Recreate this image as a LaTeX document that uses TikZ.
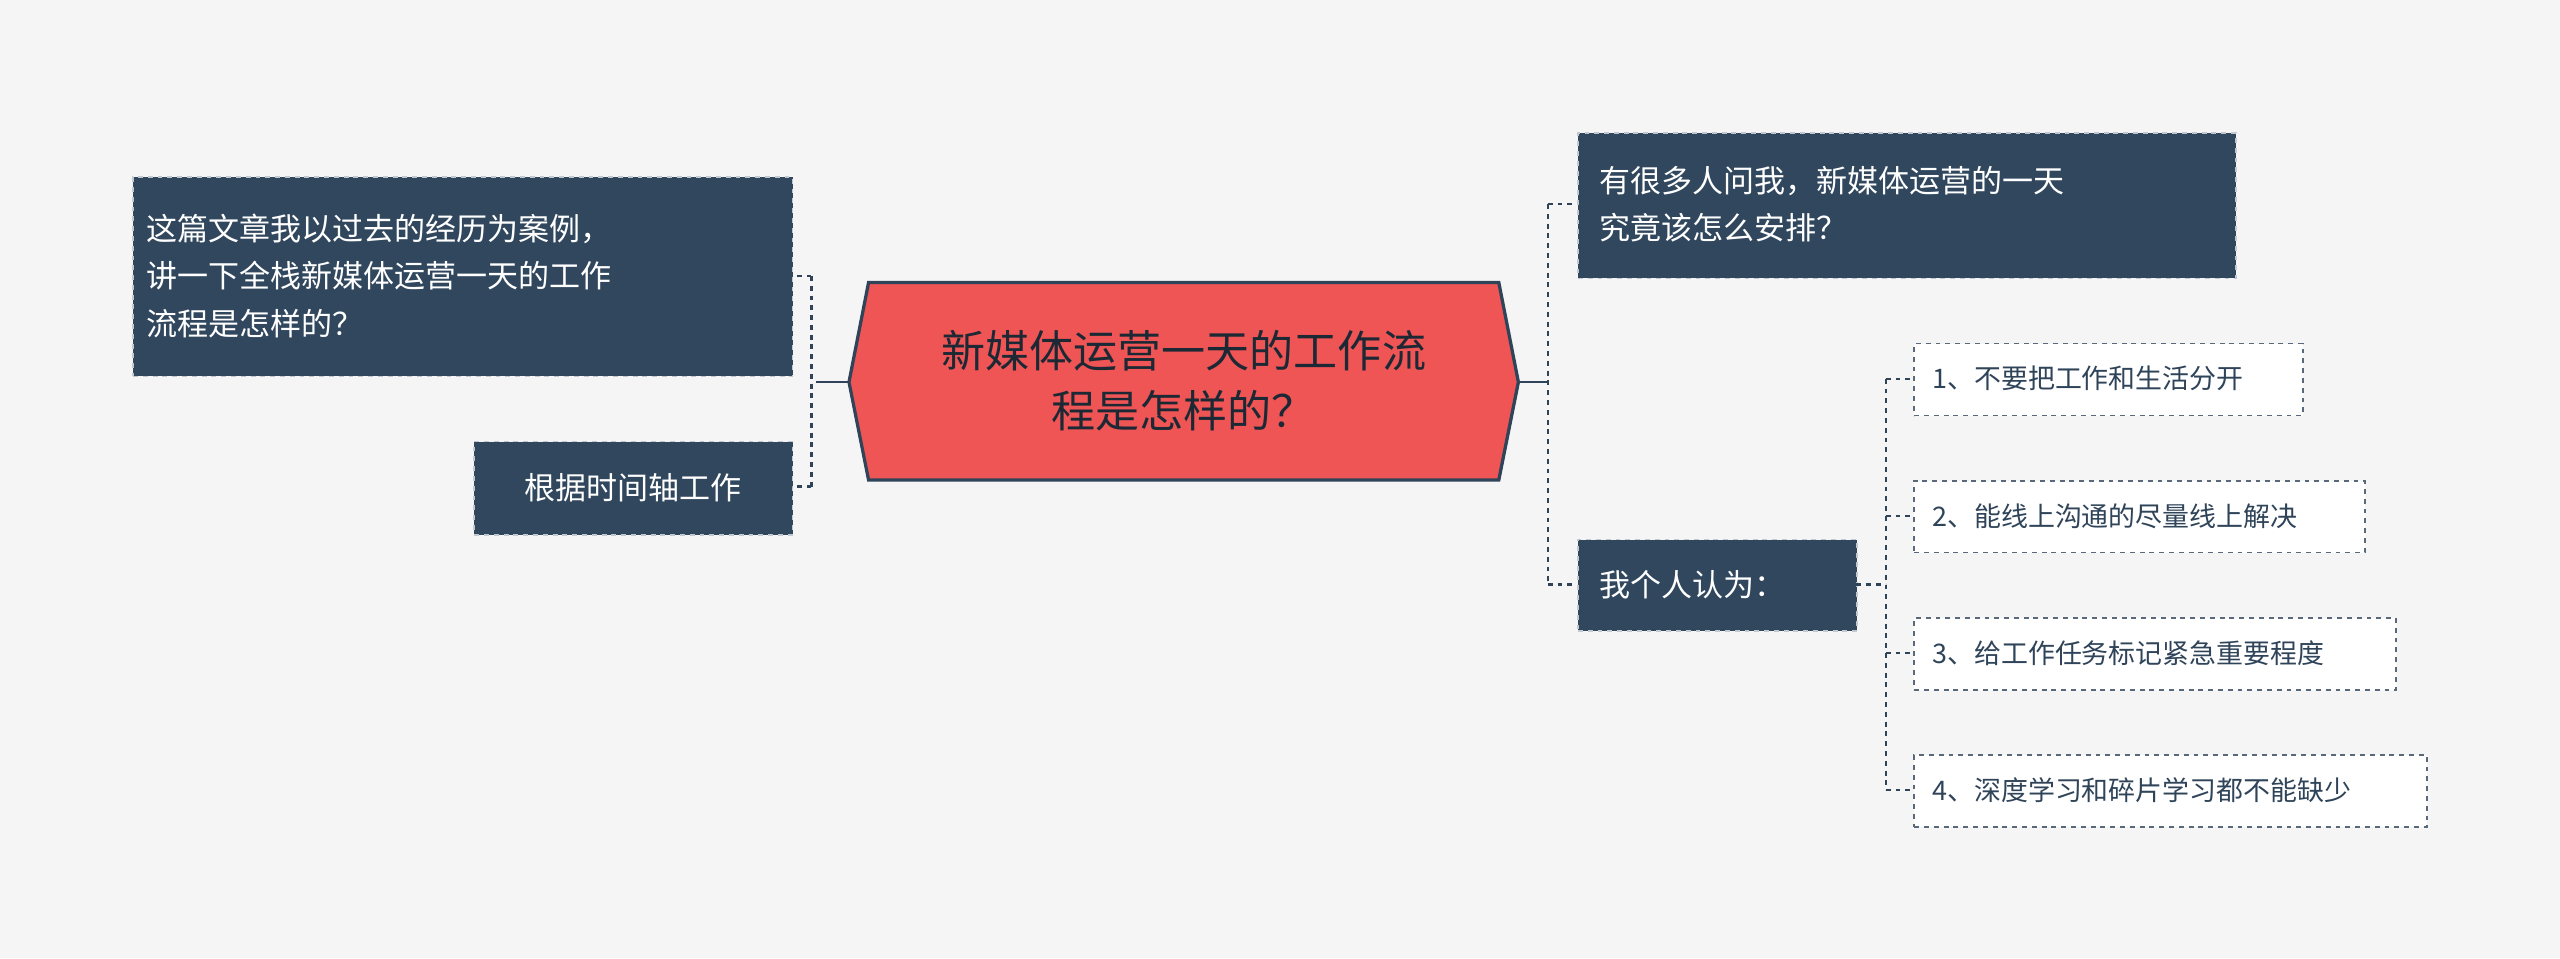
\documentclass[tikz,border=0pt]{standalone}
\usepackage{fontspec}
\setmainfont{Noto Sans CJK SC}
\usetikzlibrary{shapes.misc}
\definecolor{bg}{HTML}{F5F5F5}
\definecolor{dk}{HTML}{30475E}
\definecolor{rd}{HTML}{EF5555}
\definecolor{ln}{HTML}{2F4459}
\tikzset{
 dbox/.style={fill=dk,draw=white!70!dk,dashed,line width=1pt,text=white,font=\fontsize{19}{27}\selectfont,align=left,inner sep=0pt,anchor=north west},
 sbox/.style={fill=white,draw=ln!80,dashed,line width=1pt,text=ln,font=\fontsize{16.5}{20}\selectfont,inner sep=0pt,anchor=north west},
 conn/.style={draw=ln,dashed,line width=1.5pt},
 solidc/.style={draw=ln,line width=1.5pt}
}
\begin{document}
\begin{tikzpicture}[x=1pt,y=-1pt]
\useasboundingbox[fill=bg] (0,0) rectangle (1568,587);
% center hexagon
\draw[fill=rd,draw=ln,line width=2pt] (520,234)--(532,173)--(918,173)--(930,234)--(918,294)--(532,294)--cycle;
\node[font=\fontsize{27}{37}\selectfont,text=ln!60!black,align=center] (c) at (725,233) {新媒体运营一天的工作流\\程是怎样的？};
\coordinate (cl) at (520,234); \coordinate (cr) at (930,234);
% left
\node[dbox,minimum width=404pt,minimum height=122pt] (l1) at (81,108) {};
\node[anchor=west,text=white,font=\fontsize{19}{29}\selectfont,align=left] at (86,169) {这篇文章我以过去的经历为案例，\\讲一下全栈新媒体运营一天的工作\\流程是怎样的？};
\node[dbox,minimum width=195pt,minimum height=57pt] (l2) at (290,270) {};
\node[text=white,font=\fontsize{19}{27}\selectfont] at (387.5,298.5) {根据时间轴工作};
\draw[solidc] (cl)--(503,234);
\draw[conn] (503,234)--(497,234) (497,169)--(497,298) (497,169)--(485,169) (497,298)--(485,298);
% right
\node[dbox,minimum width=403pt,minimum height=89pt] (r1) at (966,81) {};
\node[anchor=west,text=white,font=\fontsize{19}{29}\selectfont,align=left] at (976,125) {有很多人问我，新媒体运营的一天\\究竟该怎么安排？};
\node[dbox,minimum width=171pt,minimum height=56pt] (r2) at (966,330) {};
\node[anchor=west,text=white,font=\fontsize{19}{27}\selectfont] at (976,358) {我个人认为：};
\draw[solidc] (cr)--(948,234);
\draw[conn] (948,125)--(948,358) (948,125)--(966,125) (948,358)--(966,358);
% sub
\node[sbox,minimum width=238pt,minimum height=44pt] (s1) at (1172,210) {};
\node[sbox,minimum width=276pt,minimum height=44pt] (s2) at (1172,294) {};
\node[sbox,minimum width=295pt,minimum height=44pt] (s3) at (1172,378) {};
\node[sbox,minimum width=314pt,minimum height=44pt] (s4) at (1172,462) {};
\node[anchor=west,text=ln,font=\fontsize{16.5}{20}\selectfont] at (1180,232) {1、不要把工作和生活分开};
\node[anchor=west,text=ln,font=\fontsize{16.5}{20}\selectfont] at (1180,316) {2、能线上沟通的尽量线上解决};
\node[anchor=west,text=ln,font=\fontsize{16.5}{20}\selectfont] at (1180,400) {3、给工作任务标记紧急重要程度};
\node[anchor=west,text=ln,font=\fontsize{16.5}{20}\selectfont] at (1180,484) {4、深度学习和碎片学习都不能缺少};
\draw[conn] (1137,358)--(1155,358) (1155,232)--(1155,484);
\foreach \y in {232,316,400,484} \draw[conn] (1155,\y)--(1172,\y);
\end{tikzpicture}
\end{document}
